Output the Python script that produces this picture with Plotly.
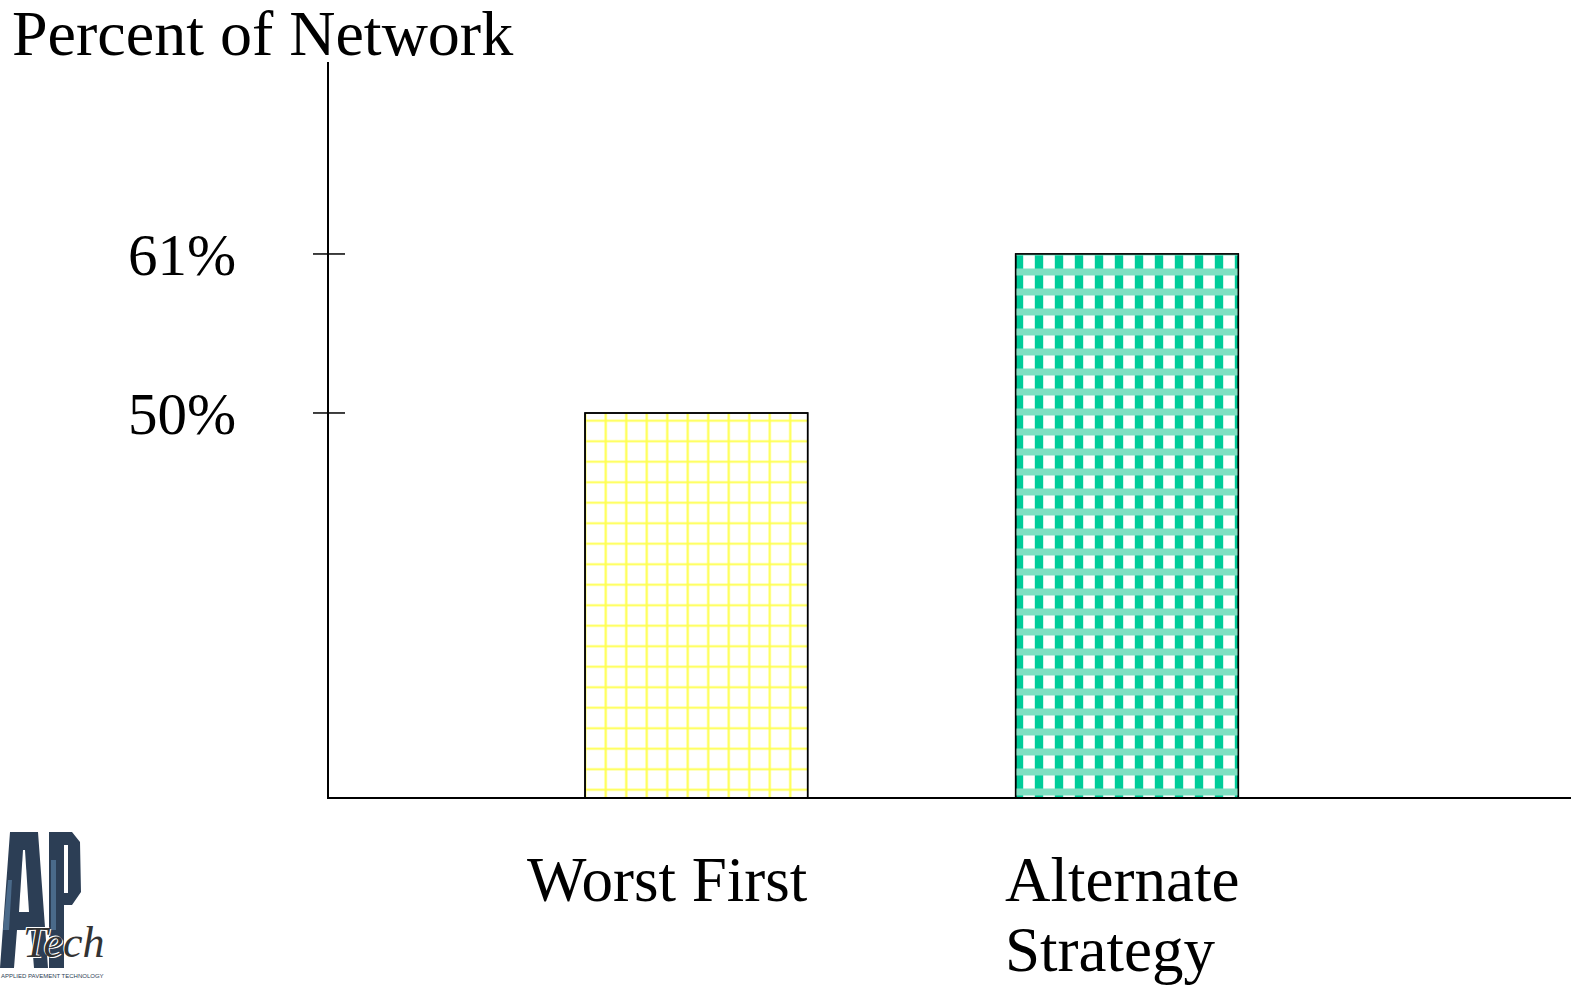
import plotly.graph_objects as go

# Chart data
categories = ["Worst First", "Alternate<br>Strategy"]
percent_values = [50, 61]
tick_values = [50, 61]
tick_labels = ["50%", "61%"]
title_text = "Percent of Network"

W, H = 1571, 990
ML, MR, MT, MB = 329, 0, 62, 193
PW, PH = W - ML - MR, H - MT - MB

SERIF = "Liberation Serif, Times New Roman, serif"
YELLOW = "#ffff4d"
GREEN = "#00cc99"
GREEN_LIGHT = "#7fdfc2"

x_pos = list(range(len(categories)))


def px_to_paper(px, py):
    """Convert window pixel coords to paper coords (used for labels and logo art)."""
    return (px - ML) / PW, (H - MB - py) / PH


fig = go.Figure()

# Base fill: yellow grid / green vertical blocks
fig.add_trace(go.Bar(
    x=x_pos, y=percent_values, width=0.517,
    marker=dict(
        color="white",
        line=dict(color="black", width=1.5),
        pattern=dict(shape=["+", "|"], fgcolor=[YELLOW, GREEN], bgcolor="white",
                     size=[20.5, 20], solidity=[0.2, 0.42], fillmode="replace"),
    ),
    hoverinfo="skip", showlegend=False,
))
# Overlay: light dotted horizontal bands on the second bar
fig.add_trace(go.Bar(
    x=x_pos, y=percent_values, width=0.517,
    marker=dict(
        color="rgba(0,0,0,0)",
        line=dict(color="black", width=1.5),
        pattern=dict(shape=["", "-"], fgcolor=[GREEN_LIGHT, GREEN_LIGHT],
                     bgcolor="rgba(0,0,0,0)", size=20, solidity=0.35, fillmode="replace"),
    ),
    hoverinfo="skip", showlegend=False,
))

# Ticks crossing the y axis
shapes = []
half = 16 / PW
for tv in tick_values:
    shapes.append(dict(type="line", xref="paper", yref="y", x0=-half, x1=half,
                       y0=tv, y1=tv, line=dict(color="black", width=1.5)))

# Logo: stylised block letters "AP"
LOGO_DARK = "#2c3e55"
LOGO_MID = "#4a6a8a"


def poly(points, color):
    pts = [px_to_paper(x, y) for x, y in points]
    path = "M " + " L ".join(f"{x:.5f},{y:.5f}" for x, y in pts) + " Z"
    return dict(type="path", xref="paper", yref="paper", path=path,
                fillcolor=color, line=dict(width=0), layer="above")


# Letter A
shapes.append(poly([(0, 968), (10, 832), (38, 832), (48, 968), (34, 968),
                    (31, 930), (17, 930), (14, 968)], LOGO_DARK))
shapes.append(poly([(19, 912), (29, 912), (25, 850), (23, 850)], "white"))
shapes.append(poly([(3, 930), (8, 880), (12, 880), (9, 930)], LOGO_MID))
# Letter P
shapes.append(poly([(49, 968), (49, 832), (72, 832), (80, 842), (81, 892),
                    (72, 905), (64, 905), (64, 968)], LOGO_DARK))
shapes.append(poly([(64, 845), (68, 845), (68, 893), (64, 893)], "white"))
shapes.append(poly([(51, 860), (56, 860), (56, 930), (51, 930)], LOGO_MID))

annotations = []
# Category labels, left aligned under each bar, one annotation per line
label_shift = [-171, -124]
line_tops = [843, 913]
for i, cat in enumerate(categories):
    for j, line in enumerate(cat.split("<br>")):
        annotations.append(dict(
            x=x_pos[i], xref="x", y=px_to_paper(0, line_tops[j])[1], yref="paper",
            text=line, showarrow=False, xanchor="left", yanchor="top", align="left",
            xshift=label_shift[i], font=dict(family=SERIF, size=63, color="black"),
        ))

# Logo text
tx, ty = px_to_paper(64, 942)
annotations.append(dict(x=tx, y=ty, xref="paper", yref="paper", text="Tech",
                        showarrow=False, xanchor="center", yanchor="middle",
                        font=dict(family=SERIF, size=44, color="#333333", style="italic",
                                  shadow="1px 1px 0 white, -1px -1px 0 white")))
sx, sy = px_to_paper(52, 976)
annotations.append(dict(x=sx, y=sy, xref="paper", yref="paper",
                        text="APPLIED PAVEMENT TECHNOLOGY", showarrow=False,
                        xanchor="center", yanchor="middle",
                        font=dict(family="Liberation Sans Narrow, Liberation Sans, sans-serif",
                                  size=6, color="#2c3e55")))

fig.update_layout(
    width=W, height=H,
    margin=dict(l=ML, r=MR, t=MT, b=MB, pad=0),
    paper_bgcolor="white", plot_bgcolor="white",
    barmode="overlay",
    title=dict(text=title_text, x=12 / W, xanchor="left", y=0.99, yanchor="top",
               font=dict(family=SERIF, size=64, color="black")),
    xaxis=dict(range=[-0.853, 2.031], showticklabels=False, ticks="",
               showgrid=False, zeroline=False, showline=True,
               linecolor="black", linewidth=2, fixedrange=True),
    yaxis=dict(range=[23.434, 74.28], tickvals=tick_values, ticktext=tick_labels,
               ticks="", showgrid=False, zeroline=False, showline=True,
               linecolor="black", linewidth=2, ticklabelstandoff=79,
               tickfont=dict(family=SERIF, size=59, color="black"), fixedrange=True),
    shapes=shapes,
    annotations=annotations,
)

fig.write_html("out.html")
